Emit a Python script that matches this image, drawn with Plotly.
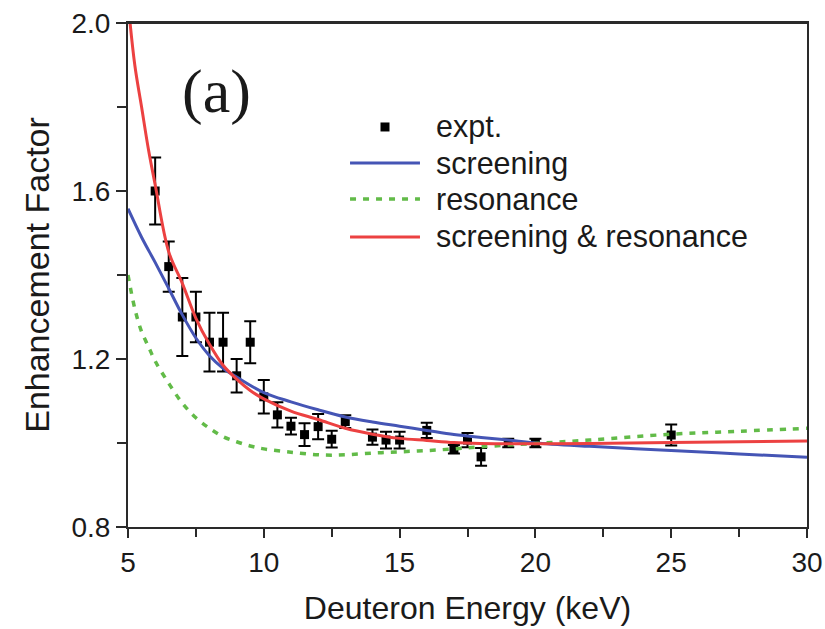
import plotly.graph_objects as go

# ---------------- data ----------------
expt_energy = [6, 6.5, 7, 7.5, 8, 8.5, 9, 9.5, 10, 10.5, 11, 11.5, 12, 12.5, 13,
               14, 14.5, 15, 16, 17, 17.5, 18, 19, 20, 25]
expt_factor = [1.60, 1.42, 1.30, 1.30, 1.24, 1.24, 1.16, 1.24, 1.11, 1.067, 1.04, 1.02,
               1.039, 1.009, 1.051, 1.014, 1.007, 1.007, 1.03, 0.985, 1.007, 0.967,
               1.0, 1.0, 1.019]
expt_error = [0.08, 0.06, 0.093, 0.06, 0.07, 0.07, 0.04, 0.05, 0.04, 0.03, 0.02, 0.027,
              0.03, 0.02, 0.015, 0.018, 0.02, 0.02, 0.018, 0.01, 0.017, 0.021,
              0.01, 0.01, 0.025]

screen_energy = [5.0, 5.5, 6.0, 6.5, 7.0, 7.5, 8.0, 8.5, 9.0, 10.0, 11.0, 12.0, 13.0,
                 14.0, 15.0, 16.0, 17.0, 18.0, 19.0, 20.0, 22.0, 25.0, 27.5, 30.0]
screen_factor = [1.558, 1.49, 1.43, 1.368, 1.305, 1.25, 1.208, 1.178, 1.157, 1.12,
                 1.098, 1.079, 1.062, 1.05, 1.04, 1.03, 1.02, 1.013, 1.007, 1.0,
                 0.992, 0.982, 0.974, 0.966]

reson_energy = [5.0, 5.25, 5.5, 5.75, 6.0, 6.5, 7.0, 7.5, 8.0, 8.5, 9.0, 9.5, 10.0,
                11.0, 12.0, 12.5, 13.0, 14.0, 15.0, 16.0, 17.0, 18.0, 20.0, 22.0,
                25.0, 27.5, 30.0]
reson_factor = [1.40, 1.32, 1.265, 1.23, 1.195, 1.142, 1.095, 1.06, 1.035, 1.015, 1.003,
                0.993, 0.986, 0.978, 0.972, 0.971, 0.972, 0.976, 0.979, 0.982, 0.986,
                0.991, 0.999, 1.007, 1.021, 1.028, 1.035]

both_energy = [5.0, 5.25, 5.5, 5.75, 6.0, 6.5, 7.0, 7.5, 8.0, 8.5, 9.0, 9.5, 10.0,
               11.0, 12.0, 13.0, 14.0, 15.0, 16.0, 17.0, 18.0, 20.0, 22.0, 25.0, 30.0]
both_factor = [2.05, 1.90, 1.80, 1.70, 1.615, 1.455, 1.38, 1.297, 1.235, 1.185, 1.152,
               1.125, 1.105, 1.076, 1.056, 1.035, 1.021, 1.011, 1.006, 1.001, 0.999,
               0.998, 0.999, 1.001, 1.005]

x_ticks = [5, 10, 15, 20, 25, 30]
y_ticks = [0.8, 1.2, 1.6, 2.0]

legend_labels = ["expt.", "screening", "resonance", "screening & resonance"]

BLUE = "#4555b5"
GREEN = "#62bb48"
RED = "#ec4141"
AXC = "#2a2a2a"
TXT = "#1a1a1a"
FONT = "Liberation Sans, Arial, sans-serif"

fig = go.Figure()

fig.add_trace(go.Scatter(
    x=expt_energy, y=expt_factor, mode="markers", name=legend_labels[0],
    marker=dict(symbol="square", size=9, color="black"),
    error_y=dict(type="data", array=expt_error, visible=True, color="black",
                 thickness=2, width=6),
    showlegend=False))

fig.add_trace(go.Scatter(x=screen_energy, y=screen_factor, mode="lines",
                         name=legend_labels[1], line=dict(color=BLUE, width=3, shape="spline"),
                         showlegend=False))
fig.add_trace(go.Scatter(x=reson_energy, y=reson_factor, mode="lines",
                         name=legend_labels[2],
                         line=dict(color=GREEN, width=3.5, shape="spline", dash="6px,7px"),
                         showlegend=False))
fig.add_trace(go.Scatter(x=both_energy, y=both_factor, mode="lines",
                         name=legend_labels[3], line=dict(color=RED, width=3, shape="spline"),
                         showlegend=False))

# ---------------- hand-made legend ----------------
PX_W, PX_H = 679.0, 504.0
lx0, lx1, ltext = 0.327, 0.430, 0.451
rows = [0.7937, 0.7222, 0.6508, 0.5754]
shapes = []
sq_w, sq_h = 9 / PX_W, 9 / PX_H
xc = 0.3785
shapes.append(dict(type="rect", xref="paper", yref="paper",
                   x0=xc - sq_w / 2, x1=xc + sq_w / 2,
                   y0=rows[0] - sq_h / 2, y1=rows[0] + sq_h / 2,
                   fillcolor="black", line=dict(width=0)))
for r, c, d, w in zip(rows[1:], [BLUE, GREEN, RED], ["solid", "6px,7px", "solid"], [3, 3.5, 3]):
    shapes.append(dict(type="line", xref="paper", yref="paper", x0=lx0, x1=lx1, y0=r, y1=r,
                       line=dict(color=c, width=w, dash=d)))
# top frame line of the plot box
shapes.append(dict(type="line", xref="paper", yref="paper", x0=0, x1=1, y0=1, y1=1,
                   line=dict(color=AXC, width=2)))

annotations = []
for r, t in zip(rows, legend_labels):
    annotations.append(dict(xref="paper", yref="paper", x=ltext, y=r, text=t,
                            showarrow=False, xanchor="left", yanchor="middle",
                            font=dict(family=FONT, size=30.5, color=TXT)))
annotations.append(dict(xref="paper", yref="paper", x=0.131, y=0.864, text="(a)",
                        showarrow=False, xanchor="center", yanchor="middle",
                        font=dict(family="Liberation Serif, Times New Roman, serif",
                                  size=62, color=TXT)))

fig.update_layout(
    width=825, height=629,
    margin=dict(l=128, r=18, t=23, b=102, autoexpand=False),
    paper_bgcolor="white", plot_bgcolor="white",
    showlegend=False,
    shapes=shapes, annotations=annotations,
    xaxis=dict(range=[5, 30], tickvals=x_ticks, ticktext=[str(v) for v in x_ticks],
               automargin=False,
               ticks="outside", ticklen=9, tickwidth=2, tickcolor=AXC,
               minor=dict(dtick=2.5, tick0=5, ticks="outside", ticklen=8, tickwidth=2,
                          tickcolor=AXC),
               showline=True, linecolor=AXC, linewidth=2, mirror=True,
               showgrid=False, zeroline=False,
               tickfont=dict(family=FONT, size=28, color=TXT),
               title=dict(text="Deuteron Energy (keV)", standoff=20,
                          font=dict(family=FONT, size=32, color=TXT))),
    yaxis=dict(range=[0.8, 2.0], tickvals=y_ticks, ticktext=[f"{v:.1f}" for v in y_ticks],
               automargin=False,
               ticks="outside", ticklen=10, tickwidth=2, tickcolor=AXC,
               minor=dict(dtick=0.2, tick0=0.8, ticks="outside", ticklen=9, tickwidth=2,
                          tickcolor=AXC),
               showline=True, linecolor=AXC, linewidth=2, mirror=True,
               showgrid=False, zeroline=False,
               tickfont=dict(family=FONT, size=28, color=TXT),
               title=dict(text="Enhancement Factor", standoff=12,
                          font=dict(family=FONT, size=34, color=TXT))),
)

# remove the default page margin so the 825x629 figure fills the window exactly
fig.write_html(
    "out.html",
    config={"displayModeBar": False},
    post_script="document.body.style.margin='0px';"
                "document.documentElement.style.overflow='hidden';"
                "document.body.style.overflow='hidden';",
)
